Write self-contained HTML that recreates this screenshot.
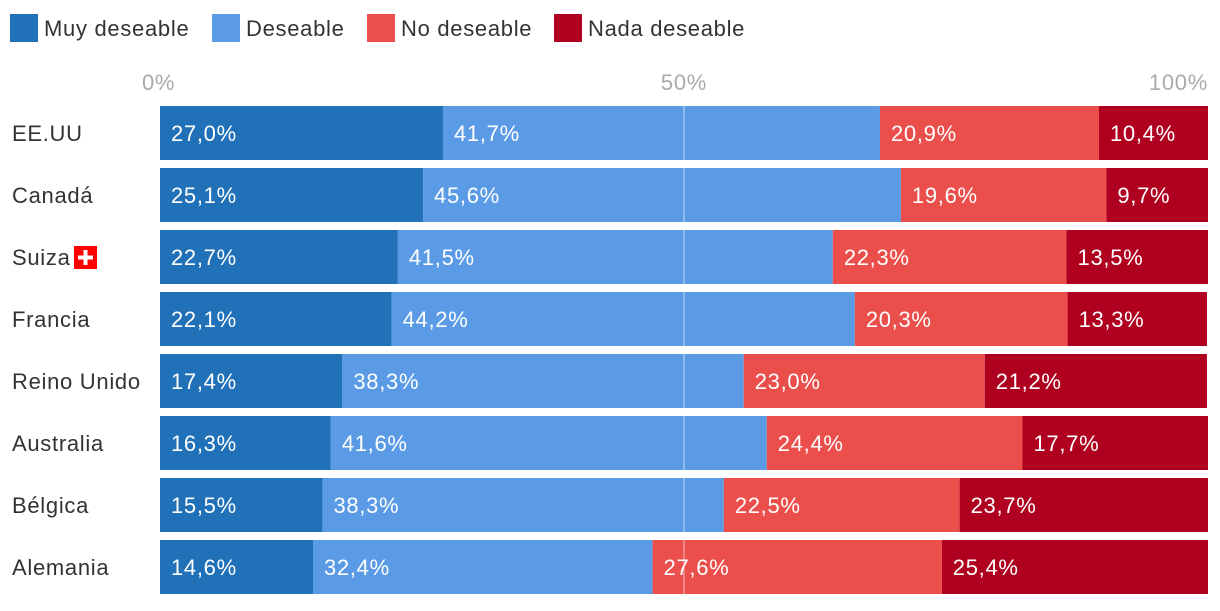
<!DOCTYPE html>
<html><head><meta charset="utf-8">
<style>
body{margin:0;width:1220px;height:606px;background:#fff;overflow:hidden;font-family:"Liberation Sans",sans-serif;}
svg text{font-family:"Liberation Sans",sans-serif;letter-spacing:0.7px;}
</style></head>
<body>
<svg id="chart" width="1220" height="606">
<g id="legend"></g>
<g id="ticks"></g>
<g id="bars"></g>
<g id="labels"></g>
<line id="grid50" stroke="#fff" stroke-opacity="0.6" stroke-width="1"></line>
</svg>
<script>
const categories=["EE.UU","Canadá","Suiza","Francia","Reino Unido","Australia","Bélgica","Alemania"];
const muyDeseable=[27.0,25.1,22.7,22.1,17.4,16.3,15.5,14.6];
const deseable=[41.7,45.6,41.5,44.2,38.3,41.6,38.3,32.4];
const noDeseable=[20.9,19.6,22.3,20.3,23.0,24.4,22.5,27.6];
const nadaDeseable=[10.4,9.7,13.5,13.3,21.2,17.7,23.7,25.4];
const seriesNames=["Muy deseable","Deseable","No deseable","Nada deseable"];
const tickValues=[0,50,100];
const tickLabels=["0%","50%","100%"];

const colors=["#2171b9","#5b9be6","#eb4f4b","#af0020"];
const legendX=[10,212,367,554];
const NS="http://www.w3.org/2000/svg";
const x0=160,x1=1208;
const xs=v=>x0+(x1-x0)*v/100;
const ys=i=>106+i*62;
const bh=54;
function mk(t,a,p){const e=document.createElementNS(NS,t);for(const k in a)e.setAttribute(k,a[k]);p.appendChild(e);return e;}
const series=[muyDeseable,deseable,noDeseable,nadaDeseable];

const lg=document.getElementById('legend');
seriesNames.forEach((n,k)=>{
  const lx=legendX[k];
  const r=mk('rect',{x:lx,y:14,width:28,height:28,fill:colors[k]},lg);
  
  
  const t=mk('text',{x:lx+34,y:36,'font-size':22,fill:'#333'},lg);
  t.textContent=n;
  
  
});

const tg=document.getElementById('ticks');
tickValues.forEach((v,i)=>{
  const anchor=i===0?'start':(i===tickValues.length-1?'end':'middle');
  const t=mk('text',{x:i===0?xs(v)-18:xs(v),y:90,'font-size':22,fill:'#aaa','text-anchor':anchor},tg);
  t.textContent=tickLabels[i];
  
  
});

const bg=document.getElementById('bars');
const lab=document.getElementById('labels');
categories.forEach((c,i)=>{
  let acc=0;
  series.forEach((s,k)=>{
    const v=s[i];
    const r=mk('rect',{x:xs(acc),y:ys(i),width:xs(acc+v)-xs(acc),height:bh,fill:colors[k]},bg);
    
    
    const t=mk('text',{x:xs(acc)+11,y:ys(i)+35,'font-size':22,fill:'#fff'},bg);
    t.textContent=v.toFixed(1).replace('.',',')+'%';
    
    
    acc+=v;
  });
  const t=mk('text',{x:12,y:ys(i)+35,'font-size':22,fill:'#333'},lab);
  t.textContent=c;
  
  
  if(c==="Suiza"){
    const fx=74, fy=ys(i)+16;
    const f=mk('rect',{x:fx,y:fy,width:23,height:23,fill:'#f00'},lab);
    
    
    mk('rect',{x:fx+9.5,y:fy+4,width:4,height:15,fill:'#fff'},lab);
    mk('rect',{x:fx+4,y:fy+9.5,width:15,height:4,fill:'#fff'},lab);
  }
});
const g=document.getElementById('grid50');
g.setAttribute('x1',xs(50));g.setAttribute('x2',xs(50));
g.setAttribute('y1',ys(0));g.setAttribute('y2',ys(categories.length-1)+bh);
</script>
</body></html>
